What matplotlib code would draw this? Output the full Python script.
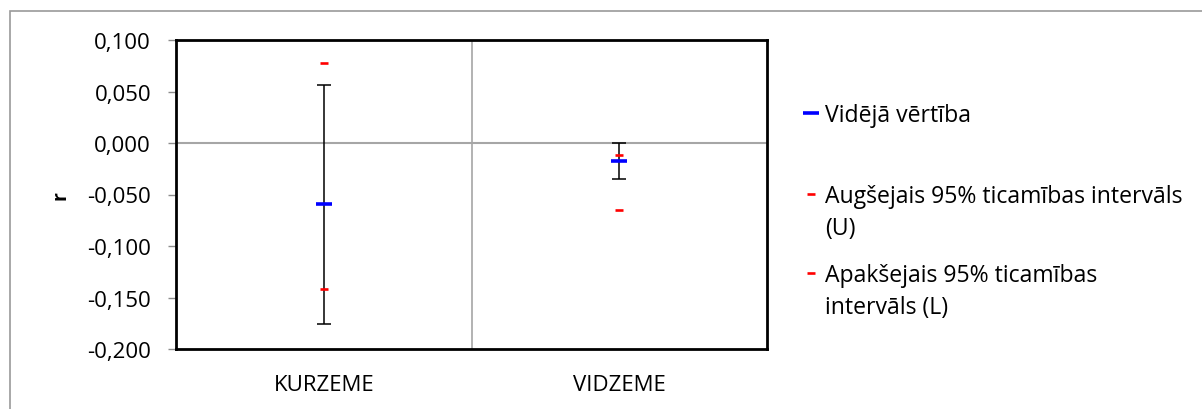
import matplotlib
matplotlib.use("Agg")
import matplotlib.pyplot as plt
from matplotlib.lines import Line2D
from matplotlib.patches import Rectangle

plt.rcParams['font.family'] = ['Open Sans', 'DejaVu Sans']

regioni = ['KURZEME', 'VIDZEME']
videja = [-0.059, -0.017]          # vidējā vērtība
augsejais = [0.078, -0.012]        # U
apaksejais = [-0.142, -0.065]      # L
kluda_aug = [0.056, 0.000]         # kļūdu joslas augša
kluda_apa = [-0.176, -0.035]       # kļūdu joslas apakša
y_ticks = [0.100, 0.050, 0.000, -0.050, -0.100, -0.150, -0.200]

fig = plt.figure(figsize=(12.02, 4.10), dpi=100)
ax = fig.add_axes([176/1202, 1-350/410, (767-176)/1202, (350-41)/410])

# ārējais rāmis
fig.patches.append(Rectangle((10/1202, -0.2), 1.2, 1.2 - 12/410,
                             transform=fig.transFigure, fill=False,
                             edgecolor='#9a9a9a', lw=1.2, zorder=0))

x = list(range(len(regioni)))
ax.axvline(0.5, color='#a6a6a6', lw=1.2, zorder=1)
ax.axhline(0, color='#a6a6a6', lw=1.5, zorder=1)

yerr = [[v - l for v, l in zip(videja, kluda_apa)],
        [h - v for v, h in zip(videja, kluda_aug)]]
ax.errorbar(x, videja, yerr=yerr, fmt='none', ecolor='black',
            elinewidth=1.1, capsize=5, capthick=1.1, zorder=2)
ax.plot(x, videja, ls='none', marker='_', ms=12, mew=2.6, color='blue', zorder=3)
ax.plot(x, augsejais, ls='none', marker='_', ms=5.3, mew=1.9, color='red', zorder=3)
ax.plot(x, apaksejais, ls='none', marker='_', ms=5.3, mew=1.9, color='red', zorder=3)

ax.set_xlim(-0.5, 1.5)
ax.set_ylim(-0.2, 0.1)
ax.set_xticks(x)
ax.set_xticklabels(regioni, fontsize=16)
ax.tick_params(axis='x', length=0, pad=18)
ax.set_yticks(y_ticks)
ax.set_yticklabels([('%.3f' % t).replace('.', ',') for t in y_ticks], fontsize=16)
ax.tick_params(axis='y', length=6, width=1, color='#8c8c8c', pad=12)
for s in ax.spines.values():
    s.set_linewidth(2)
    s.set_color('black')

ax.set_ylabel('r', fontsize=14, fontweight='bold', labelpad=12)

h_mean = Line2D([], [], ls='none', marker='_', ms=12, mew=2.6, color='blue')
h_red = Line2D([], [], ls='none', marker='_', ms=5.3, mew=1.9, color='red')
labels = ['Vidējā vērtība',
          'Augšejais 95% ticamības intervāls\n(U)',
          'Apakšejais 95% ticamības\nintervāls (L)']
handles = [h_mean, h_red, h_red]
tops = [104, 185, 264]   # pirmās rindas augša, px

for h, lab, top in zip(handles, labels, tops):
    leg = fig.legend([h], [lab], loc='upper left',
                     bbox_to_anchor=(801/1202, 1-top/410), frameon=False,
                     fontsize=16.6, handlelength=0.9, handleheight=1.15,
                     handletextpad=0.15, borderpad=0, borderaxespad=0)
    for t in leg.get_texts():
        t.set_linespacing(1.47)
    # marķieri pie pirmās rindas, kā Excel
    for col in leg._legend_handle_box.get_children():
        for row in col.get_children():
            row.align = 'top'

fig.savefig('out.png', dpi=100)
